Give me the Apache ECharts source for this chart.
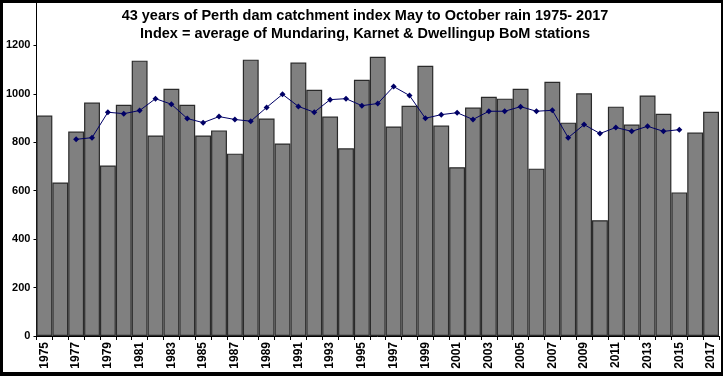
<!DOCTYPE html>
<html>
<head>
<meta charset="utf-8">
<script src="https://cdn.jsdelivr.net/npm/echarts@6/dist/echarts.min.js"></script>
<style>
html,body{margin:0;padding:0;background:#000;}
#wrap{position:absolute;left:0;top:0;width:723px;height:376px;background:#000;}
#chart{position:absolute;left:3px;top:3px;width:718px;height:369px;background:#fff;}
</style>
</head>
<body>
<div id="wrap"><div id="chart"></div></div>
<script>
var years = ["1975","1976","1977","1978","1979","1980","1981","1982","1983","1984","1985","1986","1987","1988","1989","1990","1991","1992","1993","1994","1995","1996","1997","1998","1999","2000","2001","2002","2003","2004","2005","2006","2007","2008","2009","2010","2011","2012","2013","2014","2015","2016","2017"];
var rainfall = [910,634,844,964,704,955,1137,828,1021,955,828,849,753,1141,898,795,1129,1017,906,775,1058,1153,865,951,1116,869,697,943,988,980,1021,691,1050,881,1002,478,947,873,993,918,593,840,926];
var average = [null,null,812,819,924,918,931,980,957,898,881,906,894,887,944,998,948,924,976,980,951,960,1030,993,899,914,922,894,928,928,947,928,932,819,873,836,861,845,866,845,852,null,null];
var titleLines = ["43 years of Perth dam catchment index May to October rain 1975- 2017","Index = average of Mundaring, Karnet & Dwellingup BoM stations"];

var font = 'Arial, "Liberation Sans", sans-serif';
var chart = echarts.init(document.getElementById('chart'));
chart.setOption({
  animation: false,
  backgroundColor: '#fff',
  title: {
    text: titleLines.join('\n'),
    left: 357, top: -1, textAlign: 'center',
    textStyle: {fontFamily: font, fontSize: 14.5, fontWeight: 'bold', color: '#000', lineHeight: 18}
  },
  grid: {left: 33, right: 2, top: 0, bottom: 36, containLabel: false},
  xAxis: {
    type: 'category', data: years, boundaryGap: true,
    axisLine: {lineStyle: {color: '#000', width: 1}},
    axisTick: {show: true, interval: 0, length: 4, lineStyle: {color: '#000'}},
    axisLabel: {interval: 1, rotate: 90, fontFamily: font, fontSize: 12, fontWeight: 'bold', color: '#000', margin: 6}
  },
  yAxis: {
    type: 'value', min: 0, max: 1375, interval: 200,
    axisLine: {show: true, lineStyle: {color: '#000', width: 1}},
    axisTick: {show: true, length: 3, lineStyle: {color: '#000'}},
    axisLabel: {showMaxLabel: false, formatter: function (v) { return String(v); },
      fontFamily: font, fontSize: 11, fontWeight: 'bold', color: '#000', margin: 6},
    splitLine: {show: false}
  },
  series: [
    {type: 'bar', data: rainfall, barCategoryGap: '0%', barGap: '0%',
     itemStyle: {color: '#808080', borderColor: '#2a2a2a', borderWidth: 1.2}},
    {type: 'line', data: average, connectNulls: false, symbol: 'diamond', symbolSize: 6,
     lineStyle: {color: '#000066', width: 1}, itemStyle: {color: '#000066'}}
  ]
});
</script>
</body>
</html>
